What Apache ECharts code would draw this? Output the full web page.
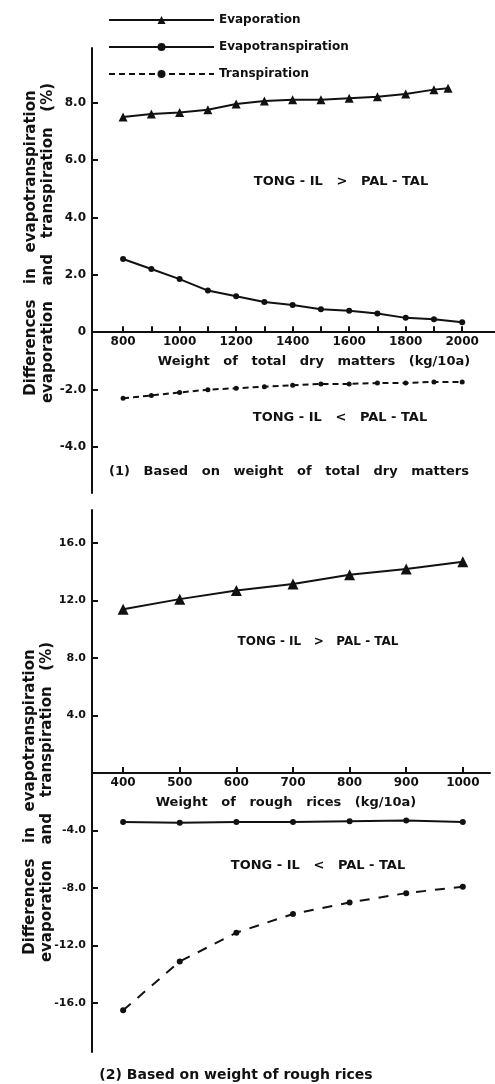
<!DOCTYPE html>
<html>
<head>
<meta charset="utf-8">
<script src="https://cdn.jsdelivr.net/npm/echarts@6/dist/echarts.min.js"></script>
<style>
  html, body { margin: 0; padding: 0; background: #fff; }
  #chart { width: 495px; height: 1084px; }
</style>
</head>
<body>
<div id="chart"></div>
<script>
// (1) based on weight of total dry matters
const dryMatter = [800, 900, 1000, 1100, 1200, 1300, 1400, 1500, 1600, 1700, 1800, 1900, 2000];
const dryEvapX = [800, 900, 1000, 1100, 1200, 1300, 1400, 1500, 1600, 1700, 1800, 1900, 1950];
const dryEvaporation = [7.5, 7.6, 7.65, 7.75, 7.95, 8.05, 8.1, 8.1, 8.15, 8.2, 8.3, 8.45, 8.5];
const dryEvapotranspiration = [2.55, 2.2, 1.85, 1.45, 1.25, 1.05, 0.95, 0.8, 0.75, 0.65, 0.5, 0.45, 0.35];
const dryTranspiration = [-2.3, -2.2, -2.1, -2.0, -1.95, -1.9, -1.85, -1.8, -1.8, -1.77, -1.77, -1.73, -1.73];
const dryXTicks = [800, 900, 1000, 1100, 1200, 1300, 1400, 1500, 1600, 1700, 1800, 1900, 2000];
const dryXLabels = [800, 1000, 1200, 1400, 1600, 1800, 2000];
const dryYTicks = [-4, -2, 2, 4, 6, 8];
const dryYLabels = [-4, -2, 0, 2, 4, 6, 8];

// (2) based on weight of rough rices
const roughRice = [400, 500, 600, 700, 800, 900, 1000];
const roughEvaporation = [11.4, 12.1, 12.7, 13.15, 13.8, 14.2, 14.7];
const roughEvapotranspiration = [-3.4, -3.45, -3.4, -3.4, -3.35, -3.3, -3.4];
const roughTranspiration = [-16.5, -13.1, -11.1, -9.8, -9.0, -8.35, -7.9];
const roughXLabels = [400, 500, 600, 700, 800, 900, 1000];
const roughYLabels = [-16, -12, -8, -4, 4, 8, 12, 16];

const pairs = (xs, ys) => xs.map((x, i) => [x, ys[i]]);
const ink = '#111';
const font = 'DejaVu Sans';

const chart = echarts.init(document.getElementById('chart'));

// grid boxes and y ranges; the x axis sits on y = 0, so shift it up from the grid bottom
const grids = [
  { left: 92, right: 0, top: 48, height: 445 },
  { left: 92, right: 5, top: 510, height: 542 }
];
const yRanges = [[-5.6, 9.9], [-19.4, 18.3]];
const zeroOffset = i => -grids[i].height * (0 - yRanges[i][0]) / (yRanges[i][1] - yRanges[i][0]);

function xAxisOf(gridIndex, min, max, ticks, labels) {
  return {
    type: 'value', gridIndex, min, max,
    offset: zeroOffset(gridIndex),
    splitLine: { show: false },
    axisLine: { onZero: false, lineStyle: { color: ink, width: 2 } },
    axisTick: { inside: true, length: 6, customValues: ticks, lineStyle: { color: ink, width: 2 } },
    axisLabel: {
      customValues: labels, color: ink, fontFamily: font, fontWeight: 'bold', fontSize: 12, margin: 4,
      formatter: v => String(v)
    }
  };
}
function yAxisOf(gridIndex, ticks, labels, size) {
  return {
    type: 'value', gridIndex, min: yRanges[gridIndex][0], max: yRanges[gridIndex][1],
    splitLine: { show: false },
    axisLine: { show: true, onZero: false, lineStyle: { color: ink, width: 2 } },
    axisTick: { show: true, inside: true, length: 6, customValues: ticks, lineStyle: { color: ink, width: 2 } },
    axisLabel: {
      customValues: labels, color: ink, fontFamily: font, fontWeight: 'bold', fontSize: size, margin: 6,
      formatter: v => v === 0 ? '0' : v.toFixed(1)
    }
  };
}

const evapStyle = { type: 'line', symbol: 'triangle', symbolSize: 11, lineStyle: { color: ink, width: 2 }, itemStyle: { color: ink }, animation: false };
const etStyle = { type: 'line', symbol: 'circle', symbolSize: 6, lineStyle: { color: ink, width: 2 }, itemStyle: { color: ink }, animation: false };

function textEl(x, y, text, size, rotate) {
  return {
    type: 'text', x, y, rotation: rotate ? Math.PI / 2 : 0,
    style: { text, fill: ink, font: `bold ${size}px "${font}"`, textAlign: 'center', textVerticalAlign: 'middle' }
  };
}

const option = {
  backgroundColor: '#fff',
  legend: {
    orient: 'vertical', left: 103, top: 8, itemWidth: 105, itemHeight: 10, itemGap: 13,
    data: ['Evaporation', 'Evapotranspiration', 'Transpiration'],
    textStyle: { color: ink, fontFamily: font, fontWeight: 'bold', fontSize: 12, lineHeight: 14 }
  },
  grid: grids,
  xAxis: [
    xAxisOf(0, 690, 2116, dryXTicks, dryXLabels),
    xAxisOf(1, 345, 1048, roughXLabels, roughXLabels)
  ],
  yAxis: [
    yAxisOf(0, dryYTicks, dryYLabels, 12),
    yAxisOf(1, roughYLabels, roughYLabels, 11)
  ],
  series: [
    Object.assign({ name: 'Evaporation', xAxisIndex: 0, yAxisIndex: 0, data: pairs(dryEvapX, dryEvaporation) }, evapStyle, { symbolSize: 9 }),
    Object.assign({ name: 'Evapotranspiration', xAxisIndex: 0, yAxisIndex: 0, data: pairs(dryMatter, dryEvapotranspiration) }, etStyle),
    {
      name: 'Transpiration', type: 'line', xAxisIndex: 0, yAxisIndex: 0, data: pairs(dryMatter, dryTranspiration),
      symbol: 'circle', symbolSize: 5, lineStyle: { color: ink, width: 2, type: [6, 4] }, itemStyle: { color: ink }, animation: false
    },
    Object.assign({ name: 'Evaporation', xAxisIndex: 1, yAxisIndex: 1, data: pairs(roughRice, roughEvaporation) }, evapStyle),
    Object.assign({ name: 'Evapotranspiration', xAxisIndex: 1, yAxisIndex: 1, data: pairs(roughRice, roughEvapotranspiration) }, etStyle),
    {
      name: 'Transpiration', type: 'line', xAxisIndex: 1, yAxisIndex: 1, data: pairs(roughRice, roughTranspiration),
      symbol: 'circle', symbolSize: 6, lineStyle: { color: ink, width: 2, type: [10, 9] }, itemStyle: { color: ink }, animation: false
    }
  ],
  graphic: [
    textEl(31, 243, 'Differences   in   evapotranspiration', 15, true),
    textEl(48, 243, 'evaporation   and   transpiration   (%)', 15, true),
    textEl(30, 802, 'Differences   in   evapotranspiration', 15, true),
    textEl(47, 802, 'evaporation   and   transpiration   (%)', 15, true),
    textEl(314, 362, 'Weight   of   total   dry   matters   (kg/10a)', 13),
    textEl(286, 803, 'Weight   of   rough   rices   (kg/10a)', 13),
    textEl(341, 182, 'TONG - IL   >   PAL - TAL', 13),
    textEl(340, 418, 'TONG - IL   <   PAL - TAL', 13),
    textEl(318, 642, 'TONG - IL   >   PAL - TAL', 12),
    textEl(318, 866, 'TONG - IL   <   PAL - TAL', 13),
    textEl(289, 472, '(1)   Based   on   weight   of   total   dry   matters', 13),
    textEl(236, 1075, '(2) Based on weight of rough rices', 14)
  ]
};

chart.setOption(option);
</script>
</body>
</html>
